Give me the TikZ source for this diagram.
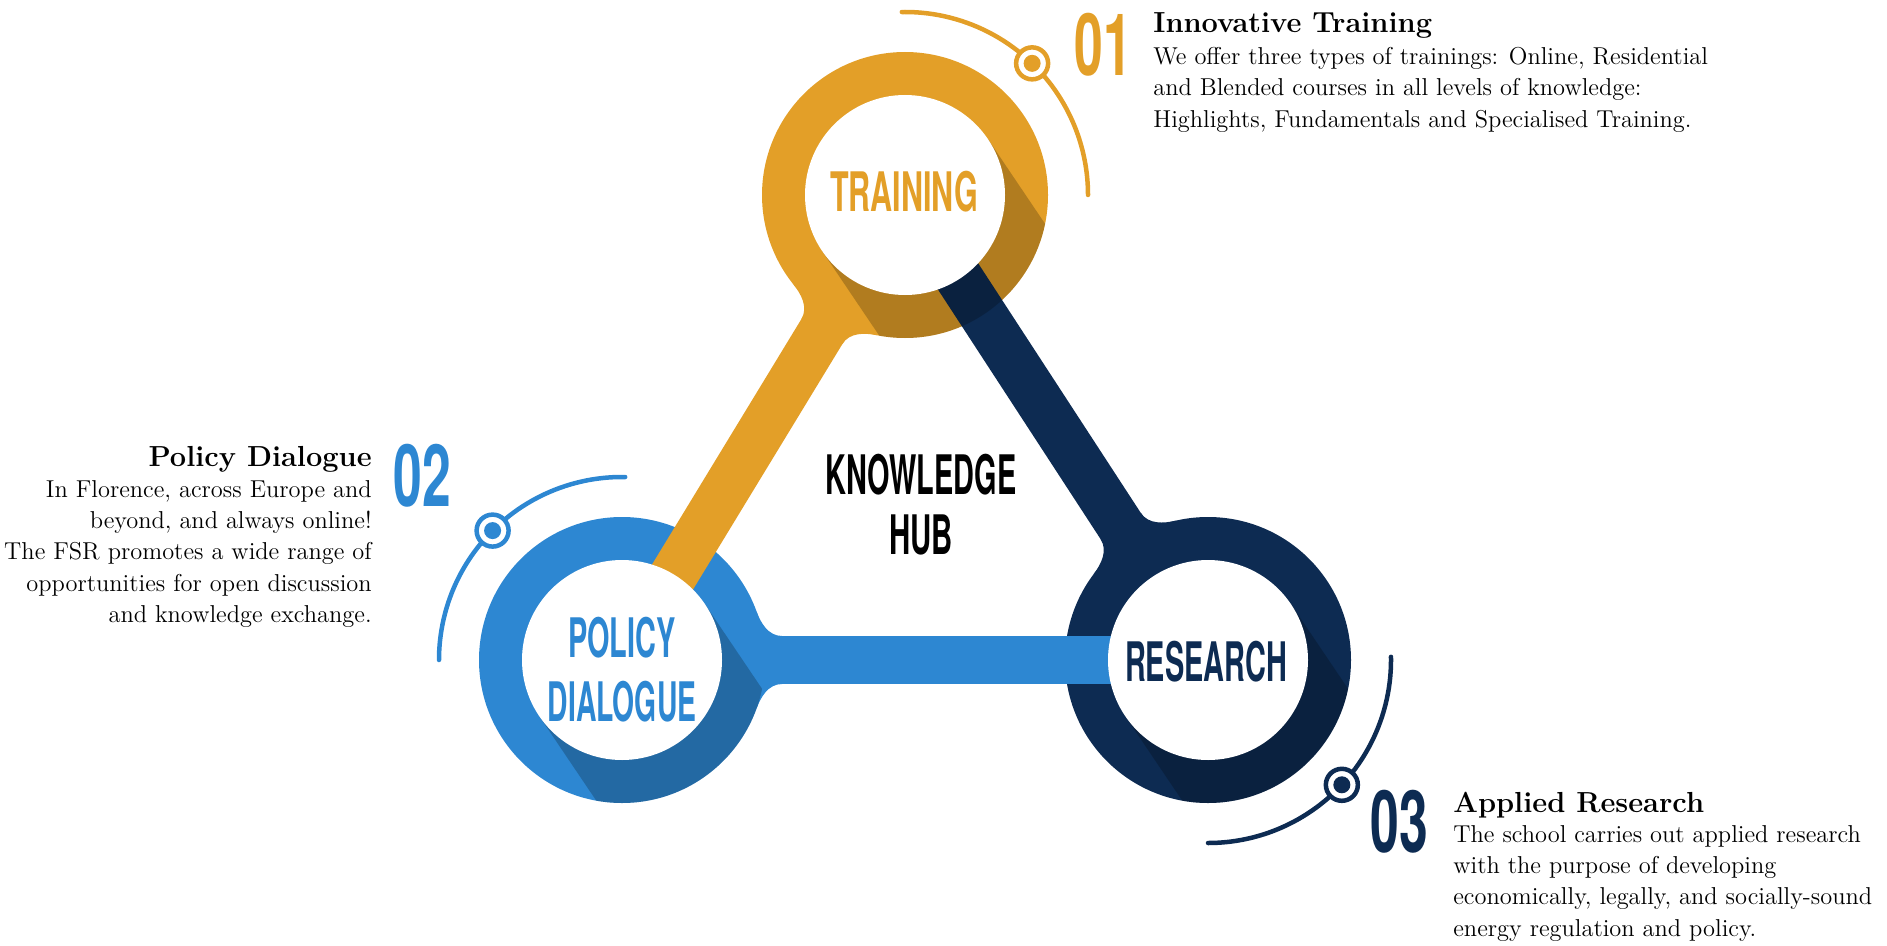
\documentclass[tikz,border=0pt]{standalone}
\usepackage{fontspec}
\usepackage{graphicx}
\newfontfamily\headfont{TeX Gyre Heros}
\definecolor{trainorange}{RGB}{227,159,40}
\definecolor{policyblue}{RGB}{45,135,210}
\definecolor{researchnavy}{RGB}{13,43,82}
\newcommand{\bebas}[2][0.53]{{\headfont\bfseries\scalebox{#1}[1]{#2}}}

\begin{document}
\begin{tikzpicture}[x=0.02cm, y=0.02cm,
            ringtext/.style={inner sep=0pt, align=center, font=\fontsize{31}{34}\selectfont},
            numtext/.style={inner sep=0pt, font=\fontsize{49}{49}\selectfont},
            headtext/.style={inner sep=0pt, font=\fontsize{16.5}{18}\selectfont\bfseries},
            bodytext/.style={inner sep=0pt, font=\fontsize{13.9}{17.8}\selectfont},
            orbit/.style={line width=0.09cm, line cap=round},
            orbitdot/.style={circle, draw=#1, fill=white, line width=0.09cm, minimum size=0.64cm, inner sep=0pt,
                path picture={\fill[#1] (path picture bounding box.center) circle (0.17cm);}},
            bar/.style={line width=0.96cm}]
            \useasboundingbox (0,0) rectangle (1887,-946);
            \coordinate (train) at (905,-195);
            \coordinate (policy) at (622,-660);
            \coordinate (research) at (1208,-660);

            \fill[trainorange] (train) circle (143);
            \fill[policyblue] (policy) circle (143);
            \fill[researchnavy] (research) circle (143);

            \draw[bar, trainorange] (train) -- (policy);
            \draw[bar, policyblue] (policy) -- (research);
            \draw[bar, researchnavy] (research) -- (train);

            \foreach \ctr/\ang/\col in {train/-121.33/trainorange, policy/0/policyblue, research/123.09/researchnavy}
                \fill[\col, shift={(\ctr)}, rotate=\ang] (134.4,48.9) .. controls (138.5,37.6) and (146,24) .. (160,24)
                    -- (160,-24) .. controls (146,-24) and (138.5,-37.6) .. (134.4,-48.9) -- cycle;

            \foreach \ctr in {train, policy, research} {
                \begin{scope}
                    \clip (\ctr) circle (143);
                    \fill[black, opacity=0.22, shift={(\ctr)}, rotate=-56] (0,-100) rectangle (330,100);
                \end{scope}
            }

            \fill[white] (train) circle (100);
            \fill[white] (policy) circle (100);
            \fill[white] (research) circle (100);

            \draw[orbit, trainorange] ([shift={(91:183)}]train) arc[start angle=91, end angle=0, radius=183];
            \draw[orbit, policyblue] ([shift={(89:183)}]policy) arc[start angle=89, end angle=180, radius=183];
            \draw[orbit, researchnavy] ([shift={(1:183)}]research) arc[start angle=1, end angle=-90, radius=183];
            \node[orbitdot=trainorange] (trainmark) at ([shift={(46:183)}]train) {};
            \node[orbitdot=policyblue] (policymark) at ([shift={(135:183)}]policy) {};
            \node[orbitdot=researchnavy] (researchmark) at ([shift={(-43:183)}]research) {};

            \node[ringtext, text=trainorange] (trainlabel) at (904,-192) {\bebas[0.56]{TRAINING}};
            \node[ringtext, text=policyblue, font=\fontsize{31}{36.3}\selectfont] (policylabel) at (622,-670) {\bebas{POLICY}\\\bebas[0.52]{DIALOGUE}};
            \node[ringtext, text=researchnavy] (researchlabel) at (1206,-662) {\bebas{RESEARCH}};
            \node[ringtext, text=black] (hublabel) at (921,-505) {\bebas{KNOWLEDGE}\\\bebas[0.54]{HUB}};

            \node[numtext, text=trainorange] (trainnum) at (1103,-44.5) {\bebas[0.6]{01}};
            \node[numtext, text=policyblue] (policynum) at (422,-476) {\bebas[0.6]{02}};
            \node[numtext, text=researchnavy] (researchnum) at (1399,-822) {\bebas[0.6]{03}};

            \node[headtext, anchor=base west] (trainhead) at (1153,-33) {Innovative Training};
            \node[bodytext, anchor=north west, align=left] (trainbody) at (1153,-47) {We offer three types of trainings: Online, Residential\\and Blended courses in all levels of knowledge:\\Highlights, Fundamentals and Specialised Training.};
            \node[headtext, anchor=base east] (policyhead) at (372,-466) {Policy Dialogue};
            \node[bodytext, anchor=north east, align=right] (policybody) at (372,-480) {In Florence, across Europe and\\beyond, and always online!\\The FSR promotes a wide range of\\opportunities for open discussion\\and knowledge exchange.};
            \node[headtext, anchor=base west] (researchhead) at (1453,-812) {Applied Research};
            \node[bodytext, anchor=north west, align=left] (researchbody) at (1453,-825) {The school carries out applied research\\with the purpose of developing\\economically, legally, and socially-sound\\energy regulation and policy.};
\end{tikzpicture}
\end{document}
